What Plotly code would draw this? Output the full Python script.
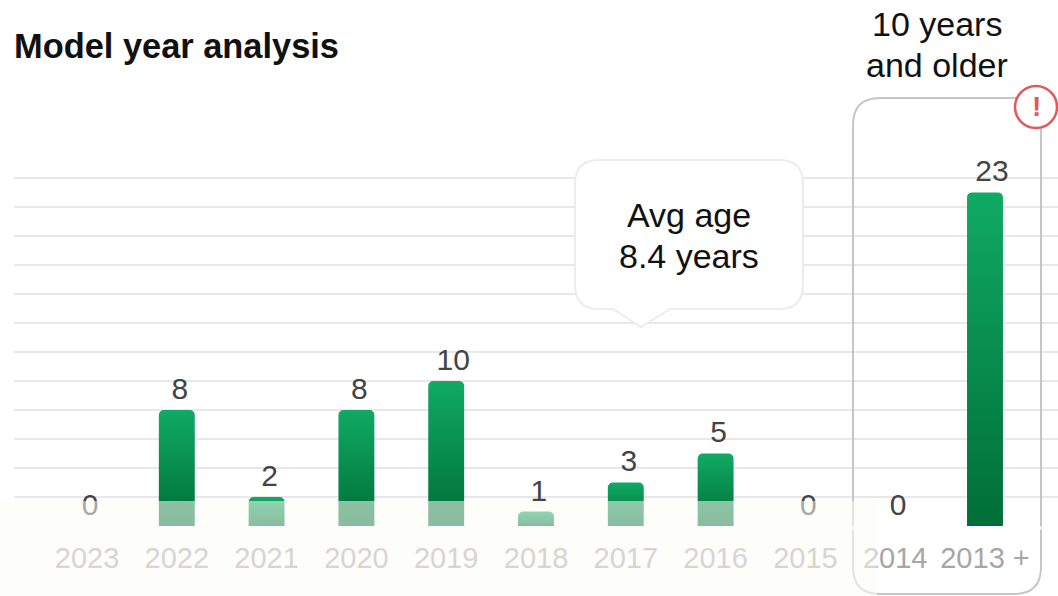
import plotly.graph_objects as go

categories = ["2023", "2022", "2021", "2020", "2019", "2018", "2017", "2016", "2015", "2014", "2013 +"]
values = [0, 8, 2, 8, 10, 1, 3, 5, 0, 0, 23]

W, H = 1058, 596
L, R, T, B = 14, 0, 175, 70
Y_MAX = 24.2
positions = list(range(len(categories)))
label_positions = [p + (0.078 if v >= 10 else 0.033) for p, v in zip(positions, values)]

def X(p): return (p - L) / (W - L - R)
def Y(p): return (H - B - p) / (H - T - B)

def rrect(x0, y0, x1, y1, r):
    return (f"M{X(x0+r)},{Y(y0)} L{X(x1-r)},{Y(y0)} Q{X(x1)},{Y(y0)} {X(x1)},{Y(y0+r)} "
            f"L{X(x1)},{Y(y1-r)} Q{X(x1)},{Y(y1)} {X(x1-r)},{Y(y1)} "
            f"L{X(x0+r)},{Y(y1)} Q{X(x0)},{Y(y1)} {X(x0)},{Y(y1-r)} "
            f"L{X(x0)},{Y(y0+r)} Q{X(x0)},{Y(y0)} {X(x0+r)},{Y(y0)} Z")

def callout(x0, y0, x1, y1, r, a0, tip, a1, ty):
    return (f"M{X(x0+r)},{Y(y0)} L{X(x1-r)},{Y(y0)} Q{X(x1)},{Y(y0)} {X(x1)},{Y(y0+r)} "
            f"L{X(x1)},{Y(y1-r)} Q{X(x1)},{Y(y1)} {X(x1-r)},{Y(y1)} "
            f"L{X(a1)},{Y(y1)} L{X(tip)},{Y(ty)} L{X(a0)},{Y(y1)} "
            f"L{X(x0+r)},{Y(y1)} Q{X(x0)},{Y(y1)} {X(x0)},{Y(y1-r)} "
            f"L{X(x0)},{Y(y0+r)} Q{X(x0)},{Y(y0)} {X(x0+r)},{Y(y0)} Z")

FONT = "Liberation Sans, Arial, sans-serif"

fig = go.Figure()
fig.add_bar(x=positions, y=values, width=0.4, marker=dict(color="#0a9050", line=dict(width=0)), hoverinfo="skip")
fig.add_scatter(x=label_positions, y=values, mode="markers+text", text=[str(v) for v in values],
                textposition="top center", cliponaxis=False,
                textfont=dict(family=FONT, size=30, color="#444444"),
                marker=dict(size=4, color="rgba(0,0,0,0)"), hoverinfo="skip", showlegend=False)

shapes = [
    dict(type="path", xref="paper", yref="paper", path=rrect(853, 98, 1041, 594, 27),
         line=dict(color="#c9c5c5", width=2), fillcolor="rgba(0,0,0,0)", layer="above"),
    dict(type="line", xref="paper", yref="paper", x0=X(850), x1=X(1044), y0=Y(528), y1=Y(528),
         line=dict(color="#ffffff", width=3), layer="above"),
    dict(type="rect", xref="paper", yref="paper", x0=X(0), x1=X(877), y0=Y(501), y1=Y(596),
         fillcolor="#fcfcf6", opacity=0.55, line=dict(width=0), layer="above"),
    dict(type="path", xref="paper", yref="paper", path=callout(575, 160, 803, 309, 24, 613, 641, 670, 327),
         line=dict(color="#ececec", width=2), fillcolor="#ffffff", layer="above"),
    dict(type="circle", xref="paper", yref="paper", x0=X(1015), x1=X(1057), y0=Y(86), y1=Y(128),
         line=dict(color="#e05a5a", width=2.5), fillcolor="#ffffff", layer="above"),
]

def note(text, x, y, size, color="#111111", bold=False):
    return dict(text=f"<b>{text}</b>" if bold else text, xref="paper", yref="paper", x=X(x), y=Y(y),
                showarrow=False, xanchor="center", yanchor="middle",
                font=dict(family=FONT, size=size, color=color), align="center")

annotations = [
    dict(text="<b>Model year analysis</b>", xref="paper", yref="paper", x=X(12), y=Y(46), showarrow=False,
         xanchor="left", yanchor="middle", font=dict(family=FONT, size=34.4, color="#111111")),
    note("10 years", 937, 24, 34),
    note("and older", 937, 65, 34),
    note("Avg age", 689, 215, 34),
    note("8.4 years", 689, 256, 34),
    note("!", 1036, 106, 28, color="#e05a5a", bold=True),
]

fig.update_layout(
    width=W, height=H, autosize=False, showlegend=False, paper_bgcolor="#ffffff", plot_bgcolor="#ffffff",
    margin=dict(l=L, r=R, t=T, b=B, pad=0), barcornerradius=5, shapes=shapes, annotations=annotations,
    xaxis=dict(range=[-0.813, 10.813], tickmode="array", tickvals=positions, ticktext=categories,
               showgrid=False, zeroline=False, showline=False, ticks="", ticklabelstandoff=12,
               tickfont=dict(family=FONT, size=29, color="#aaa5a5")),
    yaxis=dict(range=[0, Y_MAX], dtick=2, tick0=0, showticklabels=False, ticks="", zeroline=False, showline=False,
               gridcolor="#e9e7e7", gridwidth=2),
)

post = """
document.body.style.margin = '0';
document.documentElement.style.overflow = 'hidden';
var gd = document.getElementById('{plot_id}');
function paint() {
  var svg = gd.querySelector('svg.main-svg');
  var ns = 'http://www.w3.org/2000/svg';
  if (!document.getElementById('bar-grad')) {
    var defs = svg.querySelector('defs') || svg.insertBefore(document.createElementNS(ns, 'defs'), svg.firstChild);
    var g = document.createElementNS(ns, 'linearGradient');
    g.setAttribute('id', 'bar-grad');
    g.setAttribute('x1', '0'); g.setAttribute('y1', '0'); g.setAttribute('x2', '0'); g.setAttribute('y2', '1');
    [['0%', '#10aa64'], ['100%', '#006e37']].forEach(function (s) {
      var st = document.createElementNS(ns, 'stop');
      st.setAttribute('offset', s[0]); st.setAttribute('stop-color', s[1]); g.appendChild(st);
    });
    defs.appendChild(g);
  }
  gd.querySelectorAll('.barlayer .point path').forEach(function (p) { p.style.fill = 'url(#bar-grad)'; });
}
paint();
"""
fig.write_html("out.html", post_script=post, config=dict(displayModeBar=False))
